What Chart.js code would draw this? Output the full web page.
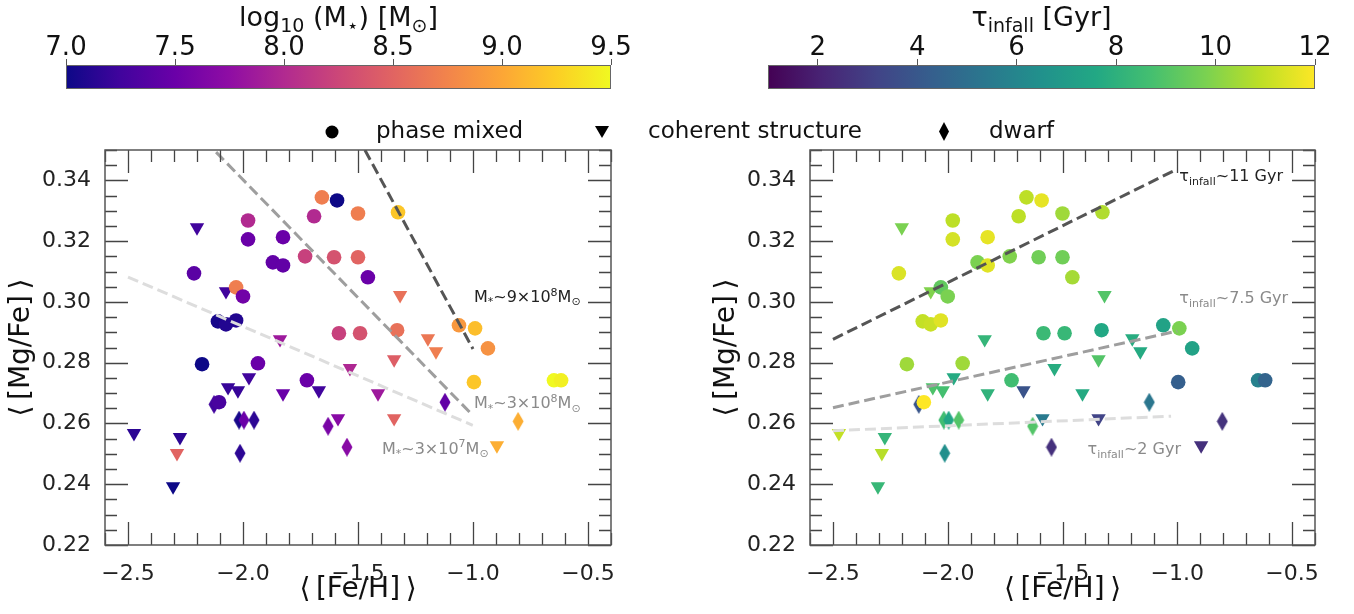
<!DOCTYPE html>
<html>
<head>
<meta charset="utf-8">
<script src="https://cdn.jsdelivr.net/npm/chart.js@4.4.0/dist/chart.umd.min.js"></script>
<style>
  body { margin: 0; background: #fff; width: 1354px; height: 614px; overflow: hidden; position: relative; font-family: 'DejaVu Sans', sans-serif; }
  canvas { position: absolute; }
  .leg { position: absolute; top: 117px; font-size: 23px; color: #111; white-space: nowrap; }
  .legsym { position: absolute; }
</style>
</head>
<body>
<canvas id="cbMass" width="677" height="100" style="left:0;top:0"></canvas>
<canvas id="cbTime" width="677" height="100" style="left:677px;top:0"></canvas>
<canvas id="left" width="677" height="474" style="left:0;top:140px"></canvas>
<canvas id="right" width="677" height="474" style="left:677px;top:140px"></canvas>

<svg class="legsym" style="left:325px;top:125px" width="14" height="14"><circle cx="7" cy="7" r="6.5" fill="#000"/></svg>
<span class="leg" style="left:376px">phase mixed</span>
<svg class="legsym" style="left:595px;top:126px" width="14" height="13"><polygon points="0,0 14,0 7,12" fill="#000"/></svg>
<span class="leg" style="left:648px">coherent structure</span>
<svg class="legsym" style="left:938px;top:122px" width="12" height="19"><polygon points="6,0 11,9.5 6,19 1,9.5" fill="#000"/></svg>
<span class="leg" style="left:989px">dwarf</span>

<script>
// ⟨[Fe/H]⟩, ⟨[Mg/Fe]⟩, type, log10 stellar mass, infall time
const feh = [
  -2.200, -1.978, -1.978, -1.826, -1.870, -1.826, -1.730, -1.657, -1.591, -1.691,
  -1.500, -1.604, -1.500, -1.457, -2.213, -2.074, -2.030, -2.000, -2.109, -2.074,
  -2.030, -1.839, -1.583, -1.491, -2.178, -1.935, -1.974, -2.065, -2.022, -2.126,
  -2.104, -2.017, -1.996, -1.952, -2.013, -2.474, -2.274, -2.287, -2.304, -1.722,
  -1.670, -1.826, -1.535, -1.630, -1.587, -1.548, -1.326, -1.317, -1.061, -0.991,
  -1.330, -1.196, -1.161, -0.935, -1.343, -0.996, -0.648, -0.617, -1.413, -1.122,
  -1.343, -0.804, -0.896
]
const mgfe = [
  0.3245, 0.3268, 0.3206, 0.3213, 0.3130, 0.3120, 0.3150, 0.3344, 0.3334, 0.3282,
  0.3291, 0.3147, 0.3147, 0.3081, 0.3094, 0.3035, 0.3048, 0.3018, 0.2936, 0.2926,
  0.2939, 0.2877, 0.2897, 0.2897, 0.2795, 0.2798, 0.2752, 0.2719, 0.2709, 0.2663,
  0.2670, 0.2611, 0.2611, 0.2611, 0.2502, 0.2568, 0.2555, 0.2502, 0.2393, 0.2742,
  0.2709, 0.2699, 0.2782, 0.2591, 0.2617, 0.2522, 0.3295, 0.3022, 0.2923, 0.2913,
  0.2907, 0.2880, 0.2837, 0.2847, 0.2811, 0.2736, 0.2742, 0.2742, 0.2699, 0.2670,
  0.2617, 0.2607, 0.2528
]
// c = phase mixed, t = coherent structure, d = dwarf
const kind = [
  't', 'c', 'c', 'c', 'c', 'c', 'c', 'c', 'c', 'c',
  'c', 'c', 'c', 'c', 'c', 't', 'c', 'c', 'c', 'c',
  'c', 't', 'c', 'c', 'c', 'c', 't', 't', 't', 'd',
  'c', 'd', 'd', 'd', 'd', 't', 't', 't', 't', 'c',
  't', 't', 't', 'd', 't', 'd', 'c', 't', 'c', 'c',
  'c', 't', 't', 'c', 't', 'c', 'c', 'c', 't', 'd',
  't', 'd', 't'
]
const logMass = [
  7.25, 8.00, 7.50, 7.50, 7.45, 7.45, 8.20, 8.70, 7.00, 8.00,
  8.70, 8.35, 8.50, 7.50, 7.40, 7.25, 8.70, 7.55, 7.05, 7.10,
  7.10, 7.85, 8.20, 8.35, 7.00, 7.50, 7.25, 7.20, 7.20, 7.25,
  7.30, 7.05, 7.50, 7.15, 7.15, 7.15, 7.15, 8.50, 7.00, 7.50,
  7.25, 7.50, 7.98, 7.60, 7.70, 7.70, 9.20, 8.60, 8.90, 9.15,
  8.60, 8.65, 8.70, 8.85, 8.45, 9.20, 9.50, 9.45, 7.85, 7.45,
  8.50, 9.05, 9.05
]
const tInfall = [
  9.8, 10.9, 11.3, 11.6, 9.8, 11.5, 9.9, 10.9, 11.6, 10.9,
  10.4, 9.6, 9.6, 10.5, 11.4, 9.9, 9.3, 9.8, 11.0, 11.1,
  11.5, 8.2, 8.4, 8.3, 10.4, 10.4, 7.7, 8.9, 8.7, 3.9,
  12.0, 8.6, 7.5, 9.0, 6.4, 11.0, 8.2, 10.8, 8.3, 8.6,
  3.8, 8.1, 7.8, 9.0, 5.5, 2.5, 10.7, 9.0, 7.3, 9.8,
  7.6, 7.8, 7.7, 7.3, 9.0, 4.3, 5.8, 4.5, 7.7, 5.3,
  3.2, 2.6, 2.5
]

// guide lines [x0, y0, x1, y1]
const massLines = [
  { pts: [-1.47, 0.350, -1.00, 0.2845], color: '#555555' },
  { pts: [-2.117, 0.3493, -1.009, 0.2633], color: '#9e9e9e' },
  { pts: [-2.50, 0.3082, -1.001, 0.2594], color: '#dddddd' }
]
const timeLines = [
  { pts: [-2.50, 0.2877, -1.006, 0.3435], color: '#555555' },
  { pts: [-2.50, 0.2652, -1.00, 0.2904], color: '#9e9e9e' },
  { pts: [-2.50, 0.2576, -1.027, 0.2624], color: '#dddddd' }
]

const xMajor = [-2.5, -2.0, -1.5, -1.0, -0.5]
const yMajor = [0.22, 0.24, 0.26, 0.28, 0.30, 0.32, 0.34]
const massTicks = [7.0, 7.5, 8.0, 8.5, 9.0, 9.5]
const timeTicks = [2, 4, 6, 8, 10, 12]

const xMinor = []
for (let k = -26; k <= -4; k++) xMinor.push(k / 10)
const yMinor = []
for (let k = 44; k <= 70; k++) yMinor.push(k / 200)

const FONT = 'DejaVu Sans'
const plasma = ['#0d0887', '#41049d', '#6a00a8', '#8f0da4', '#b12a90', '#cc4778', '#e16462', '#f2844b', '#fca636', '#fcce25', '#f0f921']
const viridis = ['#440154', '#482475', '#414487', '#355f8d', '#2a788e', '#21918c', '#22a884', '#44bf70', '#7ad151', '#bddf26', '#fde725']

function hexRgb(h) {
  return [parseInt(h.slice(1, 3), 16), parseInt(h.slice(3, 5), 16), parseInt(h.slice(5, 7), 16)]
}

function cmap(stops, t) {
  t = Math.max(0, Math.min(1, t)) * (stops.length - 1)
  const i = Math.min(Math.floor(t), stops.length - 2)
  const f = t - i
  const a = hexRgb(stops[i]), b = hexRgb(stops[i + 1])
  const c = a.map((v, k) => Math.round(v + (b[k] - v) * f))
  return `rgb(${c[0]},${c[1]},${c[2]})`
}

const diamondCache = {}
function diamond(color) {
  if (diamondCache[color]) return diamondCache[color]
  const c = document.createElement('canvas')
  c.width = 12
  c.height = 19
  const g = c.getContext('2d')
  g.fillStyle = color
  g.beginPath()
  g.moveTo(6, 0); g.lineTo(11.5, 9.5); g.lineTo(6, 19); g.lineTo(0.5, 9.5)
  g.closePath()
  g.fill()
  diamondCache[color] = c
  return c
}

// parts: [text, mode]  mode 0 normal, 1 subscript, 2 superscript
function richText(ctx, x, y, parts, size, color, align) {
  ctx.save()
  ctx.fillStyle = color
  ctx.textBaseline = 'alphabetic'
  ctx.textAlign = 'left'
  const fontOf = m => (m ? Math.round(size * 0.7) : size) + 'px "' + FONT + '"'
  let w = 0
  parts.forEach(([t, m]) => { ctx.font = fontOf(m); w += ctx.measureText(t).width })
  let cx = align === 'center' ? x - w / 2 : x
  parts.forEach(([t, m]) => {
    ctx.font = fontOf(m)
    const dy = m === 1 ? size * 0.22 : m === 2 ? -size * 0.4 : 0
    ctx.fillText(t, cx, y + dy)
    cx += ctx.measureText(t).width
  })
  ctx.restore()
}

const massNotes = [
  { x: -0.996, y: 0.3000, color: '#222', parts: [['M', 0], ['*', 1], ['~9×10', 0], ['8', 2], ['M', 0], ['⊙', 1]] },
  { x: -0.996, y: 0.2650, color: '#8a8a8a', parts: [['M', 0], ['*', 1], ['~3×10', 0], ['8', 2], ['M', 0], ['⊙', 1]] },
  { x: -1.396, y: 0.2500, color: '#8a8a8a', parts: [['M', 0], ['*', 1], ['~3×10', 0], ['7', 2], ['M', 0], ['⊙', 1]] }
]
const timeNotes = [
  { x: -0.991, y: 0.3397, color: '#222', parts: [['τ', 0], ['infall', 1], ['~11 Gyr', 0]] },
  { x: -0.991, y: 0.2995, color: '#8a8a8a', parts: [['τ', 0], ['infall', 1], ['~7.5 Gyr', 0]] },
  { x: -1.391, y: 0.2498, color: '#8a8a8a', parts: [['τ', 0], ['infall', 1], ['~2 Gyr', 0]] }
]

const framePlugin = {
  id: 'frame',
  afterDatasetsDraw(chart) {
    const { ctx, chartArea: a, scales } = chart
    ctx.save()
    ctx.strokeStyle = '#444'
    ctx.lineWidth = 1.3
    ctx.beginPath()
    xMinor.forEach(v => {
      const px = Math.round(scales.x.getPixelForValue(v)) + 0.5
      const len = xMajor.some(m => Math.abs(m - v) < 1e-6) ? 23 : 12
      ctx.moveTo(px, a.bottom); ctx.lineTo(px, a.bottom - len)
      ctx.moveTo(px, a.top); ctx.lineTo(px, a.top + len)
    })
    yMinor.forEach(v => {
      const py = Math.round(scales.y.getPixelForValue(v)) + 0.5
      const len = yMajor.some(m => Math.abs(m - v) < 1e-6) ? 23 : 12
      ctx.moveTo(a.left, py); ctx.lineTo(a.left + len, py)
      ctx.moveTo(a.right, py); ctx.lineTo(a.right - len, py)
    })
    ctx.stroke()
    ctx.strokeStyle = '#555'
    ctx.lineWidth = 1.5
    ctx.strokeRect(a.left, a.top, a.right - a.left, a.bottom - a.top)
    const notes = chart.options.plugins.frame.notes
    notes.forEach(n => {
      richText(ctx, scales.x.getPixelForValue(n.x), scales.y.getPixelForValue(n.y), n.parts, 16, n.color, 'left')
    })
    ctx.restore()
  }
}

function panel(id, values, stops, vmin, vmax, lines, notes, yWidth, padRight) {
  const colorAt = i => cmap(stops, (values[i] - vmin) / (vmax - vmin))
  const lineSets = lines.map(l => ({
    type: 'line',
    data: [{ x: l.pts[0], y: l.pts[1] }, { x: l.pts[2], y: l.pts[3] }],
    borderColor: l.color,
    borderWidth: 3,
    borderDash: [11, 5],
    pointRadius: 0,
    fill: false,
    order: 0
  }))
  const points = {
    type: 'scatter',
    data: feh.map((x, i) => ({ x, y: mgfe[i] })),
    order: 1,
    pointStyle: c => kind[c.dataIndex] === 'c' ? 'circle' : kind[c.dataIndex] === 't' ? 'triangle' : diamond(colorAt(c.dataIndex)),
    pointRotation: c => kind[c.dataIndex] === 't' ? 180 : 0,
    pointRadius: c => kind[c.dataIndex] === 'c' ? 7.3 : 8.3,
    backgroundColor: c => colorAt(c.dataIndex),
    borderWidth: 0
  }
  return new Chart(document.getElementById(id), {
    type: 'scatter',
    data: { datasets: [...lineSets, points] },
    options: {
      responsive: false,
      animation: false,
      events: [],
      layout: { padding: { top: 10, right: padRight, left: 0, bottom: 0 } },
      plugins: { legend: { display: false }, tooltip: { enabled: false }, frame: { notes } },
      scales: {
        x: {
          type: 'linear', min: -2.6, max: -0.4,
          afterBuildTicks: s => { s.ticks = xMajor.map(v => ({ value: v })) },
          ticks: { callback: v => v.toFixed(1).replace('-', '−'), font: { family: FONT, size: 22 }, color: '#222', padding: 8, maxRotation: 0 },
          grid: { display: false },
          border: { display: false },
          title: { display: true, text: '⟨\u2009[Fe/H]\u2009⟩', font: { family: FONT, size: 28 }, color: '#111', padding: { top: 7, bottom: 7 } },
          afterFit: s => { s.height = 69; s.paddingLeft = 0; s.paddingRight = 0 }
        },
        y: {
          type: 'linear', min: 0.22, max: 0.35,
          afterBuildTicks: s => { s.ticks = yMajor.map(v => ({ value: v })) },
          ticks: { callback: v => v.toFixed(2), font: { family: FONT, size: 22 }, color: '#222', padding: 6 },
          grid: { display: false },
          border: { display: false },
          title: { display: true, text: '⟨\u2009[Mg/Fe]\u2009⟩', font: { family: FONT, size: 28 }, color: '#111', padding: { top: yWidth - 100, bottom: yWidth - 100 } },
          afterFit: s => { s.width = yWidth; s.paddingTop = 0; s.paddingBottom = 0 }
        }
      }
    },
    plugins: [framePlugin]
  })
}

const barPlugin = {
  id: 'bar',
  beforeDatasetsDraw(chart) {
    const { ctx, chartArea: a } = chart
    const o = chart.options.plugins.bar
    const g = ctx.createLinearGradient(a.left, 0, a.right, 0)
    o.stops.forEach((s, i) => g.addColorStop(i / (o.stops.length - 1), s))
    ctx.save()
    ctx.fillStyle = g
    ctx.fillRect(a.left, a.top, a.right - a.left, a.bottom - a.top)
    ctx.strokeStyle = '#666'
    ctx.lineWidth = 1
    ctx.strokeRect(a.left + 0.5, a.top + 0.5, a.right - a.left - 1, a.bottom - a.top - 1)
    richText(ctx, (a.left + a.right) / 2, 26, o.title, 27, '#111', 'center')
    ctx.restore()
  }
}

function colorbar(id, stops, min, max, ticks, fmt, title, padLeft, padRight) {
  return new Chart(document.getElementById(id), {
    type: 'scatter',
    data: { datasets: [] },
    options: {
      responsive: false,
      animation: false,
      events: [],
      layout: { padding: { left: padLeft, right: padRight, top: 0, bottom: 11 } },
      plugins: { legend: { display: false }, tooltip: { enabled: false }, bar: { stops, title } },
      scales: {
        x: {
          type: 'linear', position: 'top', min, max,
          afterBuildTicks: s => { s.ticks = ticks.map(v => ({ value: v })) },
          ticks: { callback: fmt, font: { family: FONT, size: 26 }, color: '#111', padding: -5, maxRotation: 0 },
          grid: { drawOnChartArea: false, tickLength: 6, color: '#555' },
          border: { display: false },
          afterFit: s => { s.height = 65; s.paddingLeft = 0; s.paddingRight = 0 }
        },
        y: { display: false, min: 0, max: 1 }
      }
    },
    plugins: [barPlugin]
  })
}

colorbar('cbMass', plasma, 7.0, 9.5, massTicks, v => v.toFixed(1),
  [['log', 0], ['10', 1], [' (M', 0], ['⋆', 1], [') [M', 0], ['⊙', 1], [']', 0]], 66, 66)
colorbar('cbTime', viridis, 1, 12, timeTicks, v => String(v),
  [['τ', 0], ['infall', 1], [' [Gyr]', 0]], 91, 39)

panel('left', logMass, plasma, 7.0, 9.5, massLines, massNotes, 105, 66)
panel('right', tInfall, viridis, 1, 12, timeLines, timeNotes, 133, 39)
</script>
</body>
</html>
